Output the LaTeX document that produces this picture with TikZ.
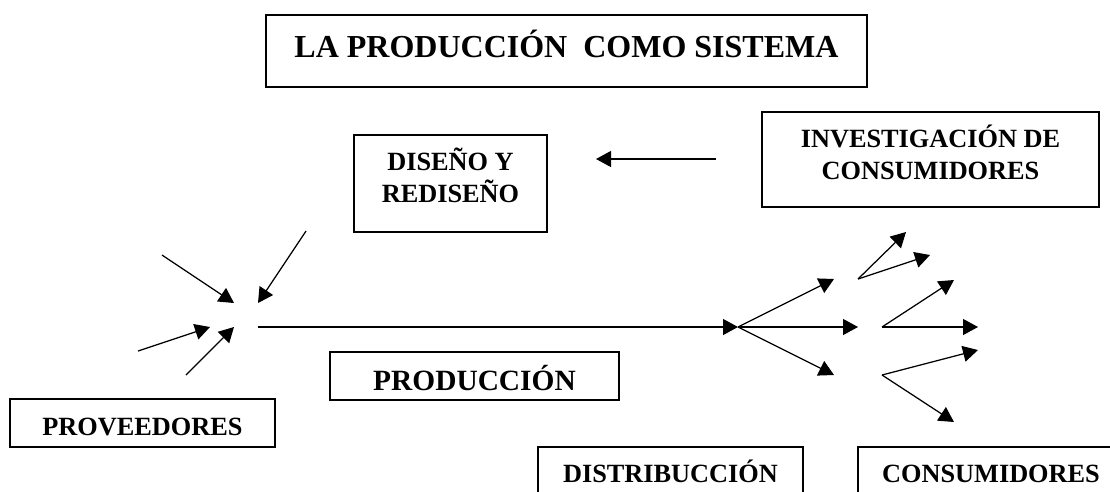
\documentclass[tikz,border=0pt]{standalone}
\usepackage{fontspec}
\setmainfont{Liberation Serif}
\usetikzlibrary{arrows.meta}
% text whose first baseline lies #1 below the centre of its box
\newcommand{\placedtext}[2]{\raisebox{#1}[0pt][0pt]{\setlength{\tabcolsep}{0pt}\begin{tabular}[t]{c}#2\end{tabular}}}
\tikzset{
  box/.style={draw,line width=1.25pt,inner sep=0pt,font=\bfseries\fontsize{26.3}{32}\selectfont},
  bigbox/.style={box,font=\bfseries\fontsize{32}{38}\selectfont},
  midbox/.style={box,font=\bfseries\fontsize{29.4}{34}\selectfont},
  conn/.style={line width=1.25pt,-{Triangle[length=15pt,width=16pt]}}
}
\begin{document}
\begin{tikzpicture}[x=1pt,y=-1pt]
\useasboundingbox (0,0) rectangle (1110,491);
\clip (0,0) rectangle (1110,491);
\node[bigbox,minimum width=601pt,minimum height=72pt] (title) at (566.5,51) {\placedtext{-6pt}{LA PRODUCCIÓN\ \ COMO SISTEMA}};
\node[box,minimum width=193pt,minimum height=97pt] (dis) at (450.5,183.5) {\placedtext{13.5pt}{DISEÑO Y\\REDISEÑO}};
\node[box,minimum width=337pt,minimum height=95pt] (inv) at (930.5,159.5) {\placedtext{12.5pt}{INVESTIGACIÓN DE\\CONSUMIDORES}};
\node[box,minimum width=265pt,minimum height=48pt] (prov) at (142.5,423) {\placedtext{-12pt}{PROVEEDORES}};
\node[midbox,minimum width=289pt,minimum height=48pt] (prod) at (474.5,376) {\placedtext{-14pt}{PRODUCCIÓN}};
\node[box,minimum width=265pt,minimum height=60pt] (distr) at (670.5,477) {\placedtext{-5pt}{DISTRIBUCCIÓN}};
\node[box,minimum width=266pt,minimum height=60pt] (cons) at (991,477) {\placedtext{-5pt}{CONSUMIDORES}};
\foreach \n/\x/\y in {a/716/159,b/596/159,c/306/231,d/258/303,e/162/255,f/234/303,g/138/351,h/210/327,i/186/375,j/234/327,k/258/327,l/738/327,m/834/279,n/858/327,o/834/375,p/858/279,q/906/232,r/930/255,s/882/327,t/954/280,u/978/327,v/882/375,w/978/350,z/954/422}
  {\coordinate (\n) at (\x,\y);}
\foreach \s/\e in {a/b,c/d,e/f,g/h,i/j,k/l,l/m,l/n,l/o,p/q,p/r,s/t,s/u,v/w,v/z}
  {\draw[conn] (\s) -- (\e);}
\end{tikzpicture}
\end{document}
